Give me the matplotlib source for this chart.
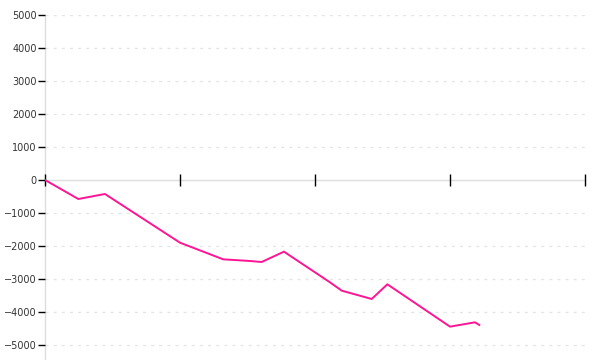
import matplotlib
matplotlib.use("Agg")
import matplotlib.pyplot as plt

x_vals = [0, 2.47, 4.44, 10.0, 13.2, 15.19, 16.05, 17.7, 21.04, 21.98, 24.2, 25.36, 30.0, 31.85, 32.17]
y_vals = [0, -576, -424, -1900, -2404, -2455, -2485, -2172, -3082, -3354, -3606, -3161, -4444, -4313, -4394]
y_ticks = [-5000, -4000, -3000, -2000, -1000, 0, 1000, 2000, 3000, 4000, 5000]
x_ticks = [0, 10, 20, 30, 40]

fig = plt.figure(figsize=(6, 3.6), dpi=100)
ax = fig.add_axes([45/600, 0, 540/600, 345/360])
ax.set_xlim(0, 40)
ax.set_ylim(-5455, 5000)

for t in y_ticks:
    if t != 0:
        ax.axhline(t, color="#e6e6e6", lw=0.9, linestyle=(0, (2.5, 4)), zorder=1)

ax.plot(x_vals, y_vals, color="#ff1493", lw=1.4, zorder=3)

for s in ["top", "right"]:
    ax.spines[s].set_visible(False)
ax.spines["left"].set_color("#dddddd")
ax.spines["left"].set_linewidth(1.0)
ax.spines["left"].set_zorder(1)
ax.spines["bottom"].set_position(("data", 0))
ax.spines["bottom"].set_color("#dddddd")
ax.spines["bottom"].set_linewidth(1.0)
ax.spines["bottom"].set_zorder(1)

ax.set_yticks(y_ticks)
ax.set_yticklabels([str(t).replace("-", "\u2212") for t in y_ticks])
ax.tick_params(axis="y", direction="out", length=5, width=1, color="black",
               labelsize=7, labelcolor="#333333", pad=1)
ax.set_xticks(x_ticks)
ax.set_xticklabels([])
ax.tick_params(axis="x", direction="inout", length=9, width=1, color="black")

fig.savefig("out.png", dpi=100)
